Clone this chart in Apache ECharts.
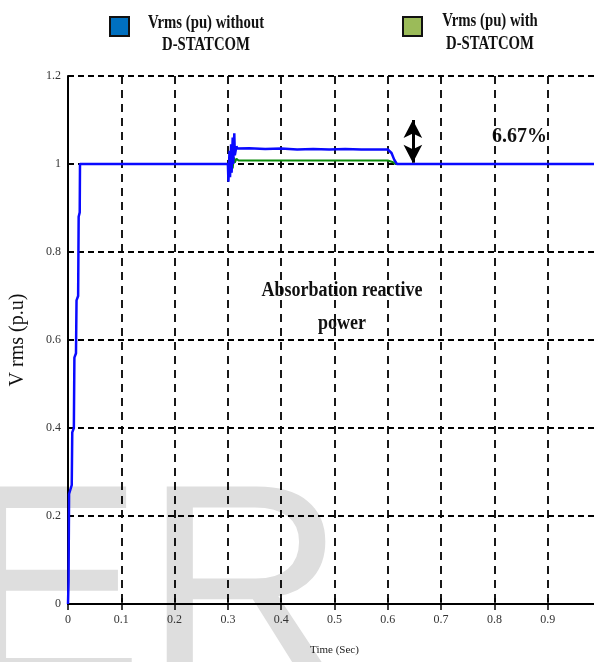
<!DOCTYPE html>
<html>
<head>
<meta charset="utf-8">
<script src="https://cdn.jsdelivr.net/npm/echarts@6/dist/echarts.min.js"></script>
<style>html,body{margin:0;padding:0;background:#fff;}#c{width:594px;height:662px;}</style>
</head>
<body>
<div id="c"></div>
<script>
// ---- data ----
const blueTime = [0, 0.001, 0.002, 0.007, 0.008, 0.011, 0.012, 0.015, 0.016, 0.019, 0.020, 0.022, 0.0225,
  0.300, 0.301, 0.303, 0.304, 0.306, 0.307, 0.309, 0.310, 0.312, 0.313, 0.316, 0.318,
  0.34, 0.37, 0.40, 0.43, 0.46, 0.49, 0.52, 0.55, 0.58, 0.600, 0.603, 0.607, 0.612, 0.617, 1.0];
const blueVrms = [0, 0.05, 0.25, 0.27, 0.39, 0.40, 0.56, 0.57, 0.69, 0.70, 0.88, 0.89, 1.0,
  1.0, 0.96, 1.03, 0.97, 1.045, 0.98, 1.06, 1.0, 1.07, 1.02, 1.04, 1.035,
  1.036, 1.034, 1.035, 1.033, 1.034, 1.033, 1.034, 1.033, 1.033, 1.033, 1.036, 1.025, 1.01, 1.0, 1.0];
const greenTime = [0.300, 0.302, 0.304, 0.305, 0.307, 0.309, 0.311, 0.313, 0.316, 0.32,
  0.40, 0.50, 0.600, 0.610, 0.614, 1.0];
const greenVrms = [1.0, 0.975, 1.015, 0.98, 1.02, 0.99, 1.015, 1.003, 1.012, 1.008,
  1.008, 1.008, 1.008, 1.004, 1.0, 1.0];
const seriesNames = ['Vrms (pu) without D-STATCOM', 'Vrms (pu) with D-STATCOM'];
const legendLines = [['Vrms (pu) without', 'D-STATCOM'], ['Vrms (pu) with', 'D-STATCOM']];
const arrowTime = 0.647;
const arrowRange = [1.1, 1.003];
const xTickLabels = ['0', '0.1', '0.2', '0.3', '0.4', '0.5', '0.6', '0.7', '0.8', '0.9', '1'];
const yTickLabels = ['0', '0.2', '0.4', '0.6', '0.8', '1', '1.2'];

const zip = (a, b) => a.map((v, i) => [v, b[i]]);
const serif = '"Liberation Serif", "DejaVu Serif", serif';

const chart = echarts.init(document.getElementById('c'), null, {renderer: 'canvas'});
chart.setOption({
  backgroundColor: '#ffffff',
  animation: false,
  grid: {left: 68, right: -7, top: 76, bottom: 58, containLabel: false, outerBoundsMode: 'none'},
  xAxis: [{
    type: 'value', min: 0, max: 1, interval: 0.1, position: 'bottom',
    name: 'Time (Sec)', nameLocation: 'middle', nameGap: 41,
    nameTextStyle: {fontFamily: serif, fontSize: 11, color: '#222'},
    axisLine: {show: true, onZero: false, lineStyle: {color: '#000', width: 2}},
    axisTick: {show: true, inside: true, length: 6, lineStyle: {color: '#000', width: 1.5}},
    axisLabel: {margin: 10, fontFamily: serif, fontSize: 12, color: '#333',
      formatter: (v) => xTickLabels[Math.round(v * 10)]},
    splitLine: {show: true, lineStyle: {color: '#000', width: 1.8, type: [8, 6]}}
  }, {
    type: 'value', min: 0, max: 1, interval: 0.1, position: 'top',
    axisLine: {show: true, lineStyle: {color: '#000', width: 2}},
    axisTick: {show: true, inside: true, length: 6, lineStyle: {color: '#000', width: 1.5}},
    axisLabel: {show: false}, splitLine: {show: false}
  }],
  yAxis: {
    type: 'value', min: 0, max: 1.2, interval: 0.2,
    name: 'V rms (p.u)', nameLocation: 'middle', nameGap: 40, nameRotate: 90,
    nameTextStyle: {fontFamily: serif, fontSize: 20, color: '#111'},
    axisLine: {show: true, lineStyle: {color: '#000', width: 2}},
    axisTick: {show: true, inside: true, length: 6, lineStyle: {color: '#000', width: 1.5}},
    axisLabel: {margin: 7, fontFamily: serif, fontSize: 12, color: '#333',
      formatter: (v) => yTickLabels[Math.round(v * 5)]},
    splitLine: {show: true, lineStyle: {color: '#000', width: 2, type: [6, 4]}}
  },
  series: [{
    name: seriesNames[1], type: 'line', data: zip(greenTime, greenVrms),
    symbol: 'none', z: 3, lineStyle: {color: '#0a8a0a', width: 2}
  }, {
    name: seriesNames[0], type: 'line', data: zip(blueTime, blueVrms),
    symbol: 'none', z: 4, lineStyle: {color: '#0a0aff', width: 2.5},
    markLine: {
      silent: true, symbol: ['arrow', 'arrow'], symbolSize: [14, 18],
      label: {show: false},
      lineStyle: {color: '#000', width: 3, type: 'solid'},
      data: [[{coord: [arrowTime, arrowRange[0]]}, {coord: [arrowTime, arrowRange[1]]}]]
    }
  }],
  graphic: [
    {type: 'text', z: -10, x: -43, y: 462, silent: true,
      style: {text: 'ER', font: '280px "Liberation Sans", Arial, sans-serif', fill: '#dedede', align: 'left', verticalAlign: 'top'}},
    {type: 'rect', shape: {x: 110, y: 17, width: 19, height: 19},
      style: {fill: '#0070C0', stroke: '#111', lineWidth: 2}},
    {type: 'rect', shape: {x: 403, y: 17, width: 19, height: 19},
      style: {fill: '#9BBB59', stroke: '#111', lineWidth: 2}},
    {type: 'text', x: 206, y: 23, scaleX: 0.82,
      style: {text: legendLines[0][0], font: 'bold 18px ' + serif, fill: '#111', align: 'center', verticalAlign: 'middle'}},
    {type: 'text', x: 206, y: 45, scaleX: 0.82,
      style: {text: legendLines[0][1], font: 'bold 18px ' + serif, fill: '#111', align: 'center', verticalAlign: 'middle'}},
    {type: 'text', x: 490, y: 21, scaleX: 0.82,
      style: {text: legendLines[1][0], font: 'bold 18px ' + serif, fill: '#111', align: 'center', verticalAlign: 'middle'}},
    {type: 'text', x: 490, y: 44, scaleX: 0.82,
      style: {text: legendLines[1][1], font: 'bold 18px ' + serif, fill: '#111', align: 'center', verticalAlign: 'middle'}},
    {type: 'text', x: 342, y: 291, scaleX: 0.9,
      style: {text: 'Absorbation reactive', font: 'bold 20px ' + serif, fill: '#111', align: 'center', verticalAlign: 'middle'}},
    {type: 'text', x: 342, y: 324, scaleX: 0.9,
      style: {text: 'power', font: 'bold 20px ' + serif, fill: '#111', align: 'center', verticalAlign: 'middle'}},
    {type: 'text', x: 492, y: 137, scaleX: 0.95,
      style: {text: '6.67%', font: 'bold 21px ' + serif, fill: '#111', align: 'left', verticalAlign: 'middle'}}
  ]
});
</script>
</body>
</html>
